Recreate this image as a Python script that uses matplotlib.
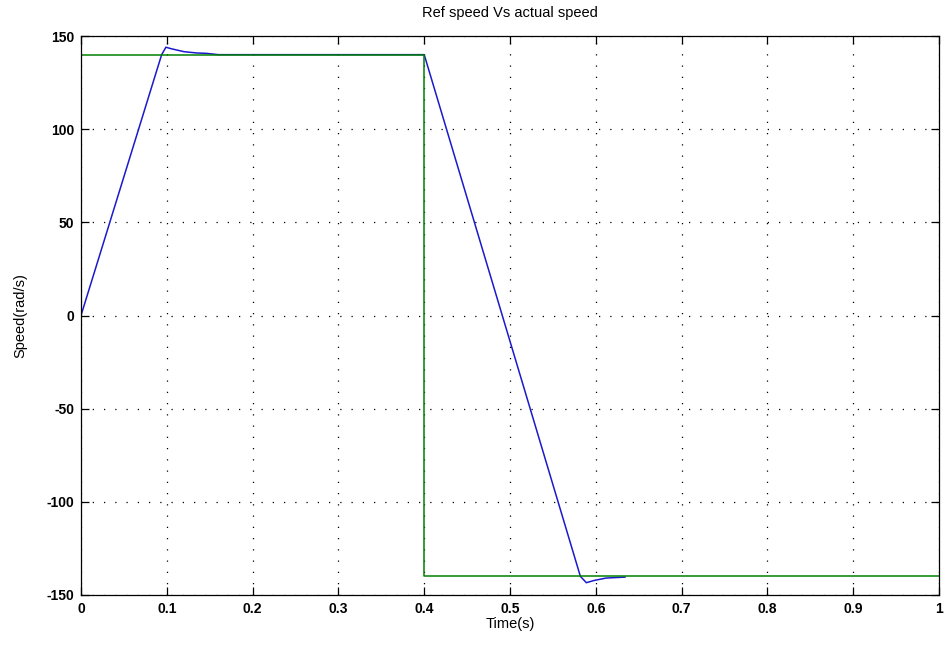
import matplotlib.pyplot as plt

plt.rcParams['font.family'] = ['Liberation Sans', 'DejaVu Sans']
plt.rcParams['axes.unicode_minus'] = False

# reference speed (step at 0.4 s)
t_ref = [0, 0.4, 0.4, 1.0]
w_ref = [140, 140, -140, -140]

# actual speed
t_act = [0, 0.094, 0.099, 0.105, 0.12, 0.135, 0.146, 0.16, 0.4,
         0.582, 0.589, 0.598, 0.612, 0.634]
w_act = [0, 140, 144, 143.2, 141.6, 140.9, 140.7, 140, 140,
         -140, -143.4, -142.2, -140.9, -140.4]

xticks = [0, 0.1, 0.2, 0.3, 0.4, 0.5, 0.6, 0.7, 0.8, 0.9, 1]
xlabels = ['0', '0.1', '0.2', '0.3', '0.4', '0.5', '0.6', '0.7', '0.8', '0.9', '1']
yticks = [-150, -100, -50, 0, 50, 100, 150]

fig = plt.figure(figsize=(9.45, 6.48), dpi=100)
ax = fig.add_axes([0.0857, 0.0818, 0.908, 0.8626])

ax.plot(t_act, w_act, color='#1a1acc', lw=1.1)
ax.plot(t_ref, w_ref, color='#008000', lw=1.1)

ax.set_xlim(0, 1)
ax.set_ylim(-150, 150)
ax.set_xticks(xticks)
ax.set_xticklabels(xlabels)
ax.set_yticks(yticks)
ax.grid(True, color='black', linestyle=(0, (1, 8)), linewidth=0.9)
ax.tick_params(direction='in', top=True, right=True, length=6, width=0.9,
               labelsize=10, pad=5)
for lbl in ax.get_xticklabels() + ax.get_yticklabels():
    lbl.set_fontweight('bold')
for s in ax.spines.values():
    s.set_linewidth(0.9)

ax.set_xlabel('Time(s)', fontsize=10.5, labelpad=1)
ax.set_ylabel('Speed(rad/s)', fontsize=10.5, labelpad=14)
ax.set_title('Ref speed Vs actual speed', fontsize=10.5, pad=14)

fig.savefig('out.png', dpi=100)
